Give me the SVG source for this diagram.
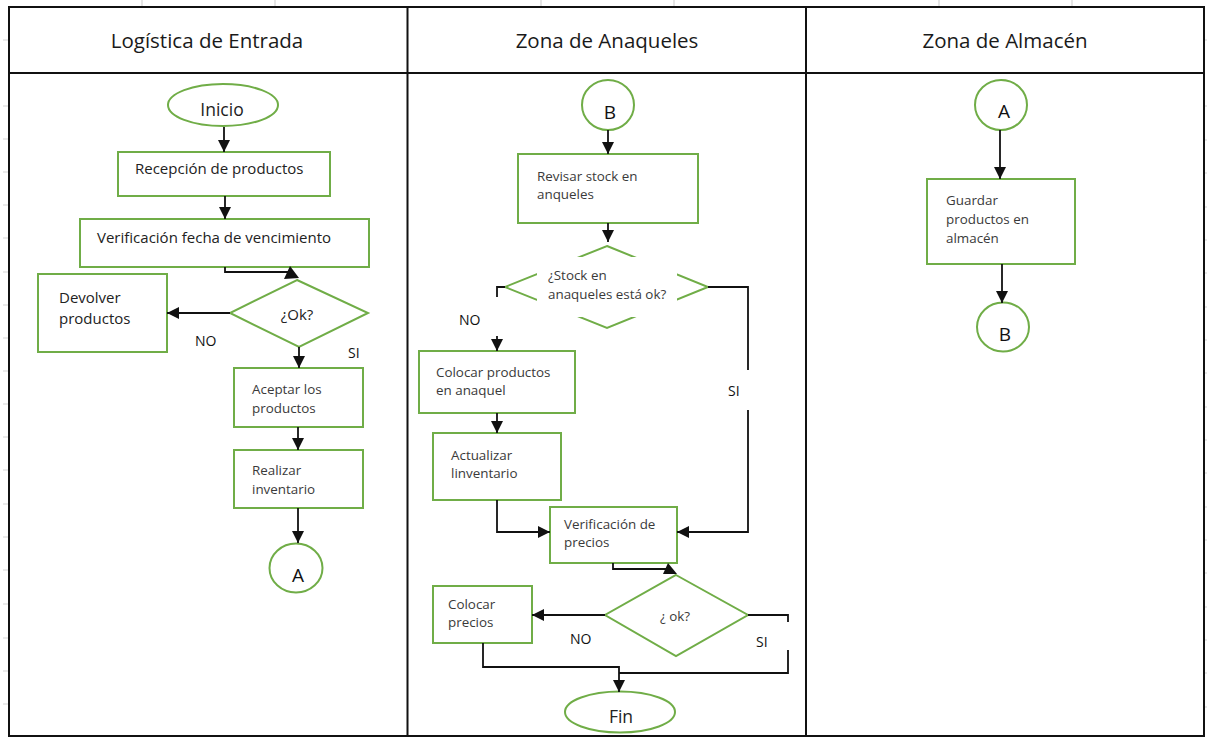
<svg xmlns="http://www.w3.org/2000/svg" width="1207" height="738" viewBox="0 0 1207 738">
<style>
.bg{fill:#ffffff}
.tick{stroke:#d4d4d4;stroke-width:1.2}
.frame{fill:none;stroke:#111;stroke-width:2}
.hdr{font-family:"Open Sans","Liberation Sans",sans-serif;font-size:20.5px;fill:#1a1a1a;text-anchor:middle}
.box{fill:#ffffff;stroke:#70ad47;stroke-width:2}
.t15{font-family:"Open Sans","Liberation Sans",sans-serif;font-size:15px;fill:#222}
.t13{font-family:"Open Sans","Liberation Sans",sans-serif;font-size:13.4px;fill:#3a3a3a}
.big{font-family:"Open Sans","Liberation Sans",sans-serif;font-size:17.5px;fill:#222;text-anchor:middle}
.let{font-family:"Open Sans","Liberation Sans",sans-serif;font-size:19px;fill:#111;text-anchor:middle}
.lbl{font-family:"Open Sans","Liberation Sans",sans-serif;font-size:14px;fill:#111}
.con{fill:none;stroke:#111;stroke-width:1.8}
.arr{fill:none;stroke:#111;stroke-width:1.8;marker-end:url(#ah)}
.head{fill:#111}
</style>
<defs>
<marker id="ah" viewBox="0 0 12 12" refX="12" refY="6" markerWidth="12" markerHeight="12" markerUnits="userSpaceOnUse" orient="auto">
<path d="M0,0 L12,6 L0,12 z" fill="#111"/>
</marker>
</defs>
<rect class="bg" x="0" y="0" width="1207" height="738"/>
<g id="grid">
<path class="tick" d="M142,0 V7 M275,0 V7 M541,0 V7 M674,0 V7 M939,0 V7 M1072,0 V7"/>
<path class="tick" d="M3,40 H9 M3,106 H9 M3,139 H9 M3,172 H9 M3,205 H9 M3,238 H9 M3,272 H9 M3,305 H9 M3,338 H9 M3,371 H9 M3,404 H9 M3,437 H9 M3,470 H9 M3,504 H9 M3,537 H9 M3,570 H9 M3,604 H9 M3,638 H9 M3,671 H9 M3,704 H9"/>
<path class="tick" d="M1204,40 H1207 M1204,106 H1207 M1204,140 H1207 M1204,173 H1207 M1204,207 H1207 M1204,240 H1207 M1204,273 H1207 M1204,307 H1207 M1204,340 H1207 M1204,373 H1207 M1204,407 H1207 M1204,440 H1207 M1204,473 H1207 M1204,507 H1207 M1204,540 H1207 M1204,573 H1207 M1204,607 H1207 M1204,640 H1207 M1204,673 H1207 M1204,707 H1207"/>
</g>
<g id="table">
<rect class="frame" x="9" y="7" width="1195" height="729"/>
<path class="frame" d="M9,73 H1204 M407.5,7 V736 M806,7 V736"/>
<text class="hdr" x="207" y="48">Logística de Entrada</text>
<text class="hdr" x="607" y="48">Zona de Anaqueles</text>
<text class="hdr" x="1005" y="48">Zona de Almacén</text>
</g>
<g id="inicio">
<ellipse class="box" cx="223" cy="105" rx="55" ry="21"/>
<text class="big" x="222" y="116">Inicio</text>
</g>
<g id="recepcion">
<rect class="box" x="118" y="152" width="212" height="44"/>
<text class="t15" x="135" y="174">Recepción de productos</text>
</g>
<g id="verificacion-fecha">
<rect class="box" x="80" y="219" width="289" height="48"/>
<text class="t15" x="97" y="243">Verificación fecha de vencimiento</text>
</g>
<g id="ok1">
<polygon class="box" points="297,280 368,313 299,347 230,313"/>
<text class="t15" x="297" y="320" text-anchor="middle">¿Ok?</text>
</g>
<g id="devolver">
<rect class="box" x="38" y="274" width="129" height="78"/>
<text class="t15" x="59" y="303">Devolver</text>
<text class="t15" x="59" y="324">productos</text>
</g>
<text class="lbl" x="195" y="346">NO</text>
<text class="lbl" x="348" y="358">SI</text>
<g id="aceptar">
<rect class="box" x="234" y="368" width="129" height="59"/>
<text class="t13" x="252" y="394">Aceptar los</text>
<text class="t13" x="252" y="413">productos</text>
</g>
<g id="realizar">
<rect class="box" x="234" y="450" width="129" height="58"/>
<text class="t13" x="252" y="475">Realizar</text>
<text class="t13" x="252" y="494">inventario</text>
</g>
<g id="conA1">
<ellipse class="box" cx="296" cy="568" rx="26.5" ry="24.5"/>
<text class="let" x="298" y="582">A</text>
</g>
<g id="conB1">
<ellipse class="box" cx="608" cy="105" rx="26" ry="25"/>
<text class="let" x="610" y="119">B</text>
</g>
<g id="revisar">
<rect class="box" x="518" y="154" width="180" height="69"/>
<text class="t13" x="537" y="181">Revisar stock en</text>
<text class="t13" x="537" y="199">anqueles</text>
</g>
<g id="stock">
<polygon class="box" points="607,246 708,287 607,328 505,287"/>
<rect x="537" y="257" width="140" height="60" fill="#ffffff"/>
<text class="t13" x="548" y="280">¿Stock en</text>
<text class="t13" x="548" y="299">anaqueles está ok?</text>
</g>
<text class="lbl" x="459" y="325">NO</text>
<text class="lbl" x="728" y="396">SI</text>
<g id="colocar-productos">
<rect class="box" x="419" y="351" width="156" height="62"/>
<text class="t13" x="436" y="377">Colocar productos</text>
<text class="t13" x="436" y="395">en anaquel</text>
</g>
<g id="actualizar">
<rect class="box" x="433" y="433" width="128" height="67"/>
<text class="t13" x="451" y="460">Actualizar</text>
<text class="t13" x="451" y="478">linventario</text>
</g>
<g id="verificacion-precios">
<rect class="box" x="550" y="507" width="127" height="56"/>
<text class="t13" x="564" y="529">Verificación de</text>
<text class="t13" x="564" y="547">precios</text>
</g>
<g id="ok2">
<polygon class="box" points="676,575 748,615 676,656 605,615"/>
<text class="t13" x="675" y="621" text-anchor="middle">¿ ok?</text>
</g>
<g id="colocar-precios">
<rect class="box" x="433" y="586" width="99" height="57"/>
<text class="t13" x="448" y="609">Colocar</text>
<text class="t13" x="448" y="627">precios</text>
</g>
<text class="lbl" x="570" y="644">NO</text>
<text class="lbl" x="756" y="647">SI</text>
<g id="fin">
<ellipse class="box" cx="620" cy="712" rx="55" ry="20.5"/>
<text class="big" x="621" y="723">Fin</text>
</g>
<g id="conA2">
<ellipse class="box" cx="1001" cy="105" rx="26" ry="25"/>
<text class="let" x="1004" y="118">A</text>
</g>
<g id="guardar">
<rect class="box" x="927" y="179" width="148" height="85"/>
<text class="t13" x="946" y="205">Guardar</text>
<text class="t13" x="946" y="224">productos en</text>
<text class="t13" x="946" y="243">almacén</text>
</g>
<g id="conB2">
<ellipse class="box" cx="1003" cy="327" rx="26" ry="24.5"/>
<text class="let" x="1005" y="341">B</text>
</g>
<g id="connectors">
<path class="arr" d="M224,127 V152"/>
<path class="arr" d="M225,196 V219"/>
<path class="con" d="M225,267 V272 H288"/>
<polygon class="head" points="290,266 284,279 299,278"/>
<path class="arr" d="M230,313 H167"/>
<path class="arr" d="M299,347 V368"/>
<path class="arr" d="M298,427 V450"/>
<path class="arr" d="M298,508 V543"/>
<path class="arr" d="M608,130 V154"/>
<path class="arr" d="M608,223 V242"/>
<path class="con" d="M505,287 H497 V297"/>
<path class="arr" d="M497,336 V351"/>
<path class="con" d="M708,287 H748 V370"/>
<path class="arr" d="M748,410 V532 H677"/>
<path class="arr" d="M497,413 V433"/>
<path class="arr" d="M497,500 V532 H550"/>
<path class="con" d="M613,563 V569 H666"/>
<polygon class="head" points="668,563 663,574 677,574"/>
<path class="arr" d="M605,615 H532"/>
<path class="con" d="M748,615 H788 V622"/>
<path class="con" d="M788,650 V673 H619"/>
<path class="arr" d="M483,643 V667 H619 V692"/>
<path class="arr" d="M1000,130 V179"/>
<path class="arr" d="M1002,264 V303"/>
</g>
</svg>
